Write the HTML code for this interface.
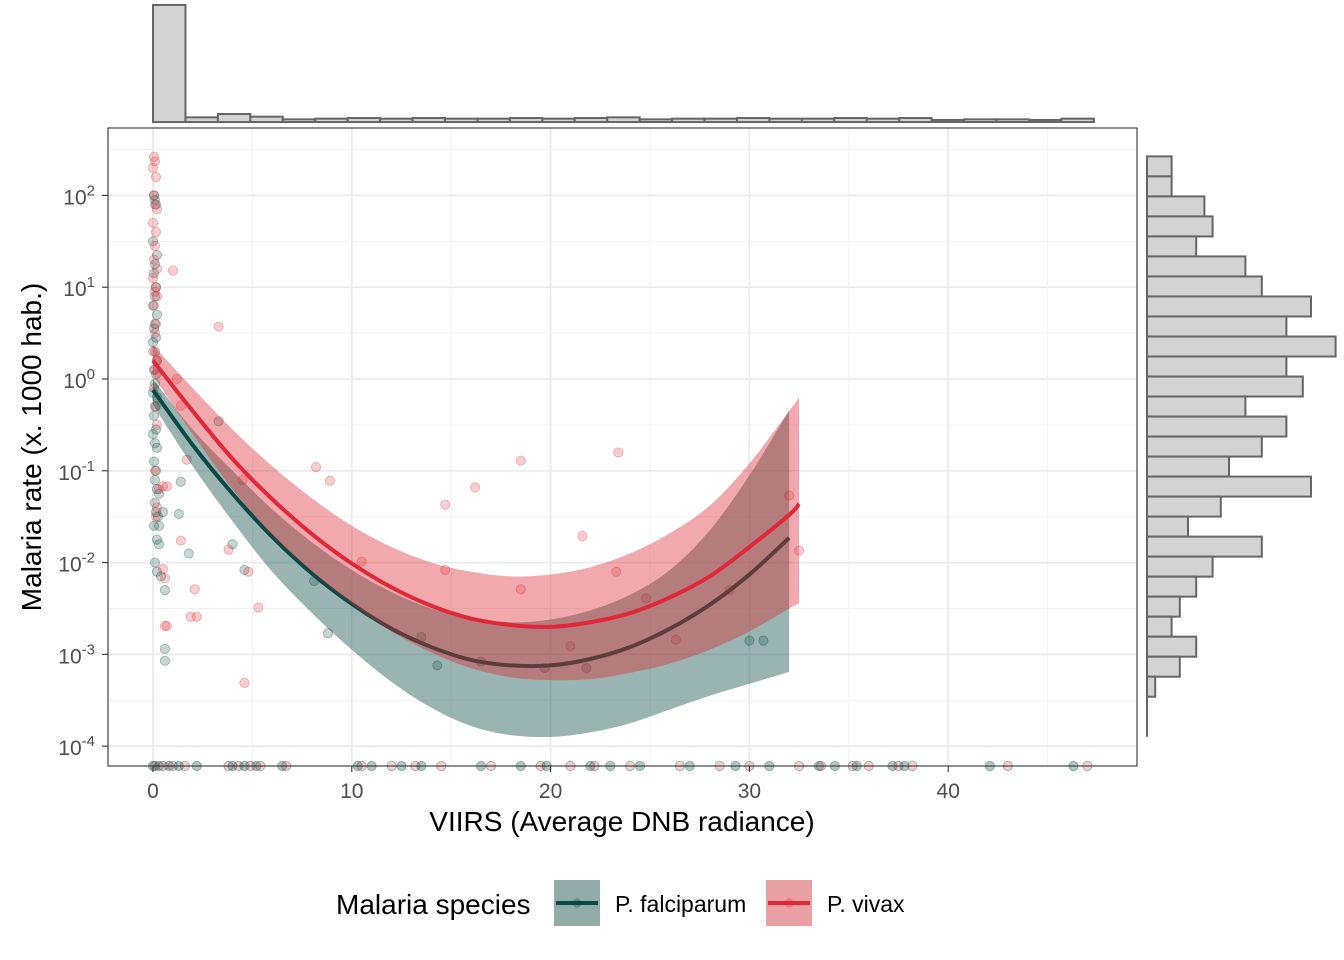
<!DOCTYPE html>
<html><head><meta charset="utf-8"><style>
html,body{margin:0;padding:0;background:#fff;}
svg{display:block;font-family:"Liberation Sans",Arial,sans-serif;}
</style></head><body>
<svg id="chart" width="1344" height="960" viewBox="0 0 1344 960" xmlns="http://www.w3.org/2000/svg"></svg>
<script>
// ---- data ----
const xTicks = [0,10,20,30,40];
const yTickExps = [2,1,0,-1,-2,-3,-4];
// scatter: x, log10(rate)
const falcX = [0.05,0.1,0.15,0.0,0.2,0.1,0.05,0.15,0.1,0.0,0.2,0.1,0.05,0.15,0.0,0.1,0.2,0.05,0.15,0.1,0.0,0.2,0.1,0.05,0.15,0.0,0.1,0.2,0.05,0.15,0.1,0.2,0.3,0.1,0.15,0.25,0.05,0.2,0.3,0.1,0.2,1.4,1.8,1.3,0.6,0.6,0.6,0.4,4.0,4.6,3.3,8.8,13.5,14.3,16.5,21.8,30.0,30.7,19.7,8.1,0.3,0.5];
const falcY = [2.0,1.95,1.9,1.5,1.35,1.25,1.15,1.0,0.9,0.8,0.7,0.6,0.55,0.45,0.4,0.3,0.2,0.1,0.05,-0.05,-0.15,-0.2,-0.3,-0.4,-0.55,-0.6,-0.7,-0.75,-0.9,-1.0,-1.1,-1.2,-1.25,-1.35,-1.45,-1.5,-1.6,-1.75,-1.8,-2.0,-2.1,-1.12,-1.9,-1.47,-2.3,-2.94,-3.07,-2.15,-1.8,-2.08,-0.46,-2.77,-2.81,-3.12,-3.08,-3.15,-2.85,-2.85,-3.15,-2.2,-1.6,-1.45];
const vivX = [0.05,0.1,0.0,0.15,0.05,0.1,0.2,0.0,0.15,0.1,0.05,0.2,0.0,0.15,0.1,0.2,0.05,0.15,0.1,0.0,0.2,0.1,0.05,0.15,0.2,0.1,0.3,0.2,0.15,1.0,3.3,8.2,8.9,14.7,16.2,18.5,21.6,23.4,32.0,32.5,4.6,5.3,2.1,1.9,2.2,0.7,0.6,0.6,0.5,1.4,3.8,4.8,1.7,0.5,0.7,1.4,1.2,4.5,10.5,14.7,18.5,21.0,24.8,23.3,26.3,29.0];
const vivY = [2.42,2.37,2.3,2.2,2.0,1.9,1.85,1.7,1.6,1.45,1.3,1.2,1.1,1.0,0.95,0.9,0.8,0.6,0.5,0.3,0.2,0.1,-0.1,-0.3,-0.5,-1.0,-1.2,-1.4,-1.5,1.18,0.57,-0.96,-1.11,-1.37,-1.18,-0.89,-1.71,-0.8,-1.27,-1.87,-3.31,-2.49,-2.29,-2.59,-2.59,-2.69,-2.69,-2.17,-2.07,-1.76,-1.86,-2.1,-0.88,-1.17,-1.17,-0.29,0.0,-1.1,-1.99,-2.08,-2.29,-2.91,-2.39,-2.1,-2.84,-2.3];
// zero-rate observations (drawn at panel bottom)
const zeroX = [0,0.1,0.3,0.5,0.8,1.0,1.3,1.6,2.2,3.8,4.0,4.3,4.6,4.9,5.2,5.4,6.5,6.7,10.3,10.5,11,12,12.5,13.2,13.5,14.5,16.5,17,18.5,19.5,19.8,21,22,22.2,23,24,24.5,26.5,27,28.5,29.3,30,31,32.5,33.5,33.6,34.3,35.2,35.4,36,37.2,37.5,37.8,38.2,42.1,43,46.3,47];
// fitted curves (log10)
const falcFitX = [0,2,4,6,8,10,12,14,16,18,20,22,24,26,28,30,32];
const falcFit = [-0.12,-0.72,-1.25,-1.72,-2.12,-2.45,-2.72,-2.92,-3.06,-3.12,-3.12,-3.05,-2.92,-2.72,-2.46,-2.13,-1.73];
const falcUp = [0.0,-0.55,-1.0,-1.42,-1.78,-2.08,-2.32,-2.5,-2.6,-2.65,-2.62,-2.52,-2.35,-2.08,-1.65,-1.05,-0.34];
const falcLo = [-0.28,-0.95,-1.55,-2.1,-2.55,-2.95,-3.3,-3.58,-3.78,-3.88,-3.9,-3.85,-3.75,-3.6,-3.45,-3.32,-3.19];
const vivFitX = [0,2,4,6,8,10,12,14,16,18,20,22,24,26,28,30,32,32.5];
const vivFit = [0.2,-0.35,-0.87,-1.31,-1.69,-2.01,-2.27,-2.47,-2.61,-2.68,-2.7,-2.65,-2.55,-2.38,-2.15,-1.83,-1.48,-1.36];
const vivUp = [0.37,-0.1,-0.55,-0.95,-1.3,-1.6,-1.83,-2.0,-2.1,-2.15,-2.13,-2.05,-1.9,-1.68,-1.38,-0.92,-0.35,-0.2];
const vivLo = [0.04,-0.6,-1.2,-1.7,-2.1,-2.45,-2.75,-2.98,-3.15,-3.25,-3.28,-3.27,-3.2,-3.1,-2.95,-2.75,-2.5,-2.44];
// marginal histograms
const topCounts = [176,7,12,8,4,5,6,5,6,5,5,6,5,6,7,4,5,5,6,5,5,6,5,6,3,4,4,3,5];
const rightCounts = [3,3,7,8,6,12,14,20,17,23,17,19,12,17,14,10,20,9,5,14,8,6,4,3,6,4,1,0,0];

// ---- scales ----
const X0=153, XS=19.88, Y0=379, YS=91.8;
const sx = v => X0 + v*XS;
const sy = l => Y0 - l*YS;
const svg = document.getElementById('chart');
const NS='http://www.w3.org/2000/svg';
function mk(tag, attrs, parent){const e=document.createElementNS(NS,tag);for(const k in attrs)e.setAttribute(k,attrs[k]);(parent||svg).appendChild(e);return e;}
// smooth path through points (Catmull-Rom -> cubic bezier)
function smooth(P, start){
  let d=(start?'M':'L')+P[0][0]+','+P[0][1];
  for(let i=0;i<P.length-1;i++){
    const p0=P[Math.max(0,i-1)],p1=P[i],p2=P[i+1],p3=P[Math.min(P.length-1,i+2)];
    const c1=[p1[0]+(p2[0]-p0[0])/6,p1[1]+(p2[1]-p0[1])/6];
    const c2=[p2[0]-(p3[0]-p1[0])/6,p2[1]-(p3[1]-p1[1])/6];
    d+=' C'+c1[0]+','+c1[1]+' '+c2[0]+','+c2[1]+' '+p2[0]+','+p2[1];
  }
  return d;
}

// panel
const panel = mk('rect',{x:108,y:128,width:1029,height:638,fill:'#fff'});


const grid = mk('g',{});


for(let v=5; v<=45; v+=10) mk('line',{x1:sx(v),x2:sx(v),y1:128,y2:766,stroke:'#f2f2f2','stroke-width':1},grid);
for(let e=-3.5; e<=2.5; e+=1) mk('line',{x1:108,x2:1137,y1:sy(e),y2:sy(e),stroke:'#f2f2f2','stroke-width':1},grid);
xTicks.forEach(v=>mk('line',{x1:sx(v),x2:sx(v),y1:128,y2:766,stroke:'#ebebeb','stroke-width':1.8},grid));
yTickExps.forEach(e=>mk('line',{x1:108,x2:1137,y1:sy(e),y2:sy(e),stroke:'#ebebeb','stroke-width':1.8},grid));

// points
const pts = mk('g',{});


falcX.forEach((x,i)=>{const c=mk('circle',{cx:sx(x),cy:sy(falcY[i]),r:4.6,fill:'rgba(2,70,60,0.22)',stroke:'rgba(2,70,60,0.3)','stroke-width':1},pts);

});
vivX.forEach((x,i)=>{const c=mk('circle',{cx:sx(x),cy:sy(vivY[i]),r:4.6,fill:'rgba(222,40,50,0.22)',stroke:'rgba(222,40,50,0.3)','stroke-width':1},pts);

});
zeroX.forEach((x,i)=>{const c=mk('circle',{cx:sx(x),cy:766,r:4.6,fill:i%2?'rgba(222,40,50,0.22)':'rgba(2,70,60,0.3)',stroke:'rgba(2,70,60,0.35)','stroke-width':1},pts);

});

function ribbon(xs,up,lo,fill,name){
  const U=xs.map((x,i)=>[sx(x),sy(up[i])]);
  const L=xs.map((x,i)=>[sx(x),sy(lo[i])]).reverse();
  const p=mk('path',{d:smooth(U,true)+' '+smooth(L,false)+'Z',fill:fill});
  
  
}
function line(xs,ys,col,name){
  const p=mk('path',{d:smooth(xs.map((x,i)=>[sx(x),sy(ys[i])]),true),fill:'none',stroke:col,'stroke-width':4,'stroke-linejoin':'round'});
  
  
}
ribbon(falcFitX,falcUp,falcLo,'rgba(2,70,60,0.4)','ribbon-falciparum');
line(falcFitX,falcFit,'#0b4a44','fit-line-falciparum');
ribbon(vivFitX,vivUp,vivLo,'rgba(222,40,50,0.4)','ribbon-vivax');
line(vivFitX,vivFit,'#e0283a','fit-line-vivax');

const border = mk('rect',{x:108,y:128,width:1029,height:638,fill:'none',stroke:'#333','stroke-width':1.1});



// axes ticks/labels
xTicks.forEach(v=>{
  mk('line',{x1:sx(v),x2:sx(v),y1:766,y2:772,stroke:'#333','stroke-width':1.1});
  const t=mk('text',{x:sx(v),y:798,'text-anchor':'middle','font-size':21,fill:'#4d4d4d'});
  t.textContent=v;
  
  
});
yTickExps.forEach(e=>{
  mk('line',{x1:102,x2:108,y1:sy(e),y2:sy(e),stroke:'#333','stroke-width':1.1});
  const t=mk('text',{x:95,y:sy(e)+9,'text-anchor':'end','font-size':21,fill:'#4d4d4d'});
  t.innerHTML='10<tspan dy="-9" font-size="15">'+e+'</tspan>';
  
  
});
const xt=mk('text',{x:622,y:831,'text-anchor':'middle','font-size':28,fill:'#000'});
xt.textContent='VIIRS (Average DNB radiance)';


const yt=mk('text',{x:0,y:0,'text-anchor':'middle','font-size':28,fill:'#000',transform:'translate(41,447) rotate(-90)'});
yt.textContent='Malaria rate (x. 1000 hab.)';



// top histogram
const th=mk('g',{});


const binW=1.632, TPX=0.665;
topCounts.forEach((c,i)=>{const h=c*TPX;
  const r=mk('rect',{x:sx(i*binW),y:122-h,width:binW*XS,height:h,fill:'#d3d3d3',stroke:'#666','stroke-width':2},th);
  
  });

// right histogram
const rh=mk('g',{});


const topLog=2.425, binL=0.218, RPX=8.2;
mk('line',{x1:1147,x2:1147,y1:sy(topLog),y2:sy(topLog-binL*rightCounts.length),stroke:'#666','stroke-width':2},rh);
rightCounts.forEach((c,i)=>{if(!c)return;
  const y1=sy(topLog-binL*i), y2=sy(topLog-binL*(i+1));
  const r=mk('rect',{x:1147,y:y1,width:c*RPX,height:y2-y1,fill:'#d3d3d3',stroke:'#666','stroke-width':2},rh);
  
  });

// legend
const lg=mk('g',{});


const lt=mk('text',{x:336,y:914,'font-size':28,fill:'#000'},lg);
lt.textContent='Malaria species';


[[554,'rgba(2,70,60,0.4)','#0b4a44','rgba(2,70,60,0.3)','P. falciparum','legend-entry-falciparum'],
 [766,'rgba(222,40,50,0.4)','#e0283a','rgba(222,40,50,0.3)','P. vivax','legend-entry-vivax']].forEach(([x,f,l,p,txt,n])=>{
  const g=mk('g',{},lg);
  
  
  mk('rect',{x:x,y:880,width:46,height:46,fill:'#f2f2f2'},g);
  mk('rect',{x:x,y:880,width:46,height:46,fill:f},g);
  mk('line',{x1:x+2,x2:x+44,y1:903,y2:903,stroke:l,'stroke-width':4},g);
  mk('circle',{cx:x+23,cy:903,r:4.6,fill:p},g);
  const t=mk('text',{x:x+61,y:912,'font-size':23,fill:'#000'},g);
  t.textContent=txt;
});
</script>
</body></html>
